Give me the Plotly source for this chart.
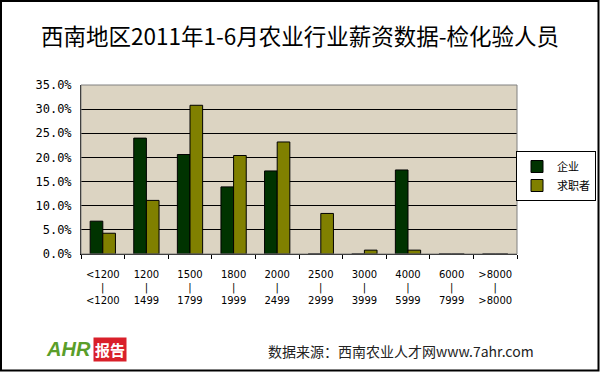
import plotly.graph_objects as go

categories = ["<1200<br>|<br><1200", "1200<br>|<br>1499", "1500<br>|<br>1799", "1800<br>|<br>1999",
              "2000<br>|<br>2499", "2500<br>|<br>2999", "3000<br>|<br>3999", "4000<br>|<br>5999",
              "6000<br>|<br>7999", ">8000<br>|<br>>8000"]
qiye = [6.8, 24.0, 20.6, 13.9, 17.2, 0, 0, 17.4, 0, 0]
qiuzhi = [4.3, 11.1, 30.8, 20.4, 23.2, 8.4, 0.8, 0.8, 0, 0]
ytick_vals = [0, 5, 10, 15, 20, 25, 30, 35]
ytick_text = ["0.0%", "5.0%", "10.0%", "15.0%", "20.0%", "25.0%", "30.0%", "35.0%"]

font = "Noto Sans CJK SC, DejaVu Sans, sans-serif"

L, R, T, B = 81, 83, 85, 118
PW, PH = 600 - L - R, 372 - T - B


def px(x):
    return (x - L) / PW


def py(y):
    return (372 - B - y) / PH


fig = go.Figure()
fig.add_trace(go.Bar(name="企业", x=categories, y=qiye,
                     marker=dict(color="#003300", line=dict(color="black", width=1))))
fig.add_trace(go.Bar(name="求职者", x=categories, y=qiuzhi,
                     marker=dict(color="#808000", line=dict(color="black", width=1))))

fig.update_layout(
    width=600, height=372,
    margin=dict(l=L, r=R, t=T, b=B, autoexpand=False),
    paper_bgcolor="white", plot_bgcolor="#DCD4C2",
    barmode="group", bargap=0.42, bargroupgap=0,
    font=dict(family=font, color="black", size=11),
    title=dict(text="西南地区2011年1-6月农业行业薪资数据-检化验人员", x=0.5, xanchor="center",
               xref="container", yref="container",
               y=1 - 37 / 372, yanchor="middle", font=dict(size=22.5, family=font, color="black")),
    legend=dict(x=px(596), y=py(151), xanchor="right", yanchor="top", bgcolor="white",
                bordercolor="black", borderwidth=1, font=dict(size=11), tracegroupgap=0,
                itemwidth=30),
    xaxis=dict(showgrid=False, ticks="outside", tickcolor="black", ticklen=4, tickson="boundaries",
               showline=True, linecolor="black", linewidth=1, ticklabelstandoff=11,
               tickfont=dict(size=10, family="DejaVu Sans, sans-serif"), tickangle=0),
    yaxis=dict(range=[0, 35], tickvals=ytick_vals, ticktext=ytick_text, showgrid=True,
               gridcolor="black", gridwidth=1, showline=True, linecolor="black", linewidth=1,
               tickfont=dict(size=12, family="DejaVu Sans Mono, monospace"), zeroline=False,
               ticklabelstandoff=6),
)

# outer border
fig.add_shape(type="rect", xref="paper", yref="paper",
              x0=px(1), x1=px(598.5), y0=py(370.5), y1=py(1),
              line=dict(color="black", width=2))
# plot border
fig.add_shape(type="rect", xref="paper", yref="paper", x0=0, x1=1, y0=0, y1=1,
              line=dict(color="#808080", width=1))

fig.add_annotation(text="数据来源：西南农业人才网www.7ahr.com", xref="paper", yref="paper",
                   x=px(401), y=py(351), xanchor="center", yanchor="middle", showarrow=False,
                   font=dict(size=14, family=font, color="#222"))
fig.add_annotation(text="<i><b>AHR</b></i>", xref="paper", yref="paper",
                   x=px(68), y=py(349), xanchor="center", yanchor="middle", showarrow=False,
                   font=dict(size=20, family="Liberation Sans", color="#5a9e2a"))
fig.add_annotation(text="<b>报告</b>", xref="paper", yref="paper",
                   x=px(110), y=py(349), xanchor="center", yanchor="middle", showarrow=False,
                   bgcolor="#d9202a", font=dict(size=15, family=font, color="white"), borderpad=1)

fig.write_html("out.html", config={"displayModeBar": False},
               post_script="document.body.style.margin='0';document.body.style.overflow='hidden';")
